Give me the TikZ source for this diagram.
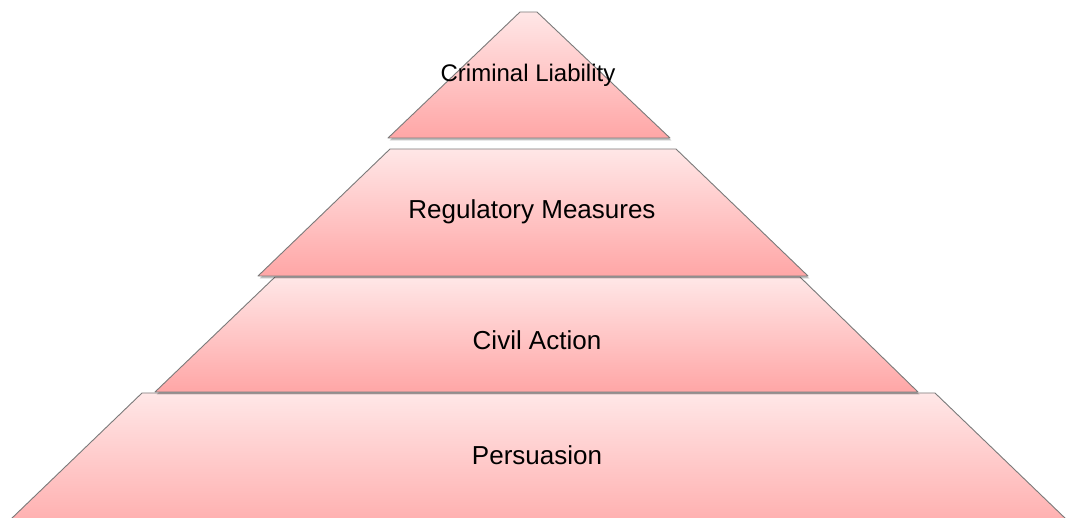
\documentclass[tikz,border=0pt]{standalone}
\usepackage{fontspec}
\setmainfont{Liberation Sans}
\usetikzlibrary{shadows}
\definecolor{tiertop}{HTML}{FFE7E7}
\definecolor{tierbot}{HTML}{FFA6A6}
\definecolor{tieredge}{HTML}{7A7A7A}
\tikzset{
  tier/.style={draw=tieredge, line width=0.9pt, line join=round,
    top color=tiertop, bottom color=tierbot,
    drop shadow={shadow xshift=1.5pt, shadow yshift=-2.5pt, opacity=0.25, fill=black}},
  tierlabel/.style={font=\fontsize{26}{30}\selectfont, text=black, inner sep=0pt},
  toplabel/.style={font=\fontsize{24}{28}\selectfont, text=black, inner sep=0pt}
}
\begin{document}
\begin{tikzpicture}[x=1pt,y=-1pt]
  \clip (0,0) rectangle (1066,518);
  \fill[white] (0,0) rectangle (1066,518);
  % bottom tier first, so each upper tier casts its shadow on the one below;
  % the base runs past the lower edge of the page
  \path[tier] (142,393) -- (935,393) -- (1093,545) -- (-16,545) -- cycle;
  \path[tier] (275,277) -- (800,277) -- (918,392) -- (155,392) -- cycle;
  \path[tier] (390,149) -- (676,149) -- (808,276) -- (258,276) -- cycle;
  \path[tier] (520,12) -- (537,12) -- (670,138) -- (388,138) -- cycle;
  % labels
  \node[toplabel]  (crim) at (528,75)  {Criminal Liability};
  \node[tierlabel] (reg)  at (532,212) {Regulatory Measures};
  \node[tierlabel] (civ)  at (537,340) {Civil Action};
  \node[tierlabel] (pers) at (537,455) {Persuasion};
\end{tikzpicture}
\end{document}
